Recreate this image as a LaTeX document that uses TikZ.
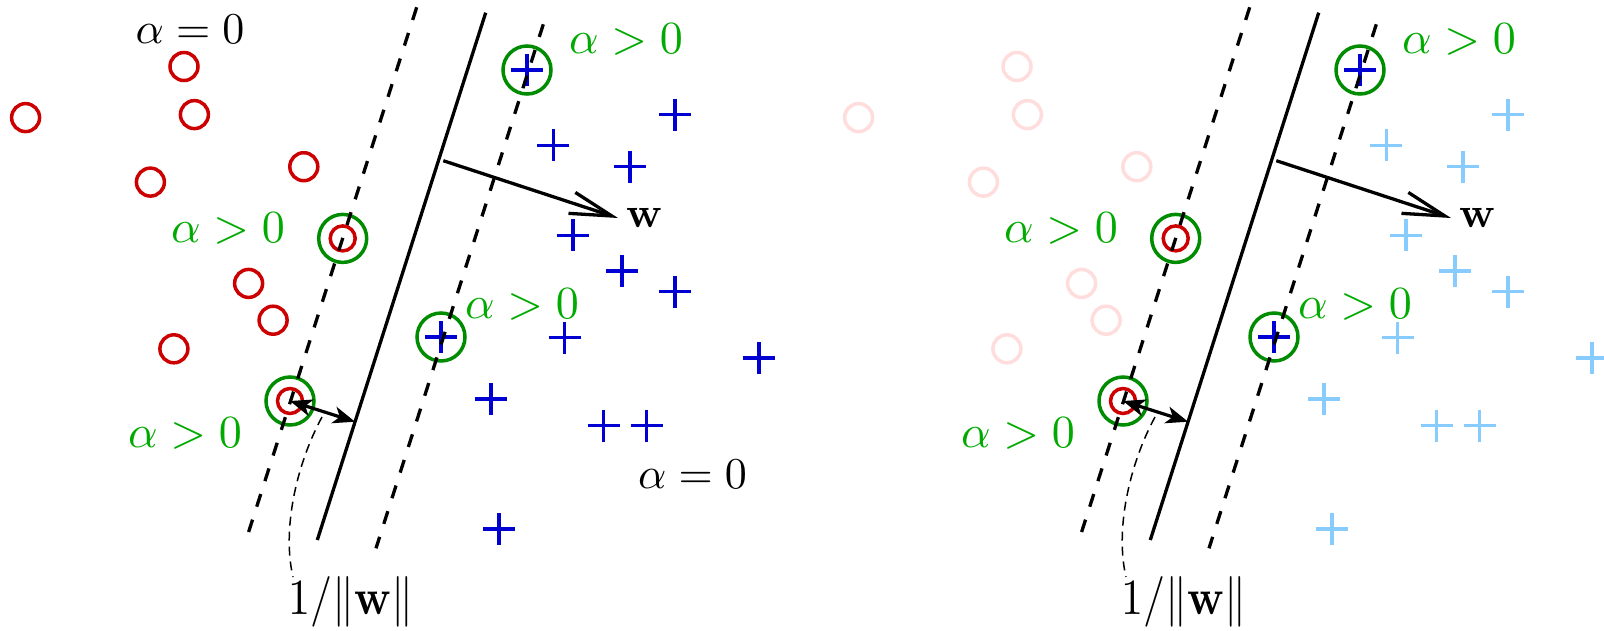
\documentclass[tikz,border=0pt]{standalone}
\usetikzlibrary{arrows.meta,calc}
\definecolor{redC}{RGB}{204,0,0}
\definecolor{pinkC}{RGB}{255,221,221}
\definecolor{blueC}{RGB}{0,0,210}
\definecolor{lblueC}{RGB}{136,204,255}
\definecolor{greenC}{RGB}{0,140,0}
\definecolor{gtextC}{RGB}{0,170,0}
\newcommand\svmtxt[2][4.6]{\scalebox{#1}{$#2$}}
\tikzset{
  ring/.style={circle, draw, line width=3.5pt, minimum size=28pt, inner sep=0pt},
  svring/.style={circle, draw=greenC, line width=3.5pt, minimum size=48pt, inner sep=0pt},
  svin/.style={circle, draw=redC, line width=3.5pt, minimum size=25pt, inner sep=0pt},
  pl/.pic={\draw[line width=3.5pt] (-16,0) -- (16,0) (0,-16) -- (0,16);},
  bnd/.style={line width=3.3pt},
  marg/.style={line width=3.3pt, dash pattern=on 13.3pt off 13.6pt},
  lab/.style={inner sep=0pt},
  galab/.style={lab, text=gtextC, anchor=base},
  kalab/.style={lab, text=black, anchor=base},
  wlab/.style={lab, anchor=west, inner xsep=8pt},
  normlab/.style={lab, anchor=base},
  guide/.style={line width=1.5pt, dash pattern=on 9pt off 6pt},
  dbl/.style={line width=3.2pt, {Stealth[length=22pt,width=17pt,inset=6pt]}-{Stealth[length=22pt,width=17pt,inset=6pt]}},
  warr/.style={line width=3.3pt, -{Straight Barb[length=42pt,width=22pt]}}
}
\newcommand\svmpanel[3]{%
  \foreach \px/\py [count=\i] in {184/66.5, 25.6/117.6, 194.4/114.6, 150.4/182.1, 303.8/166.7, 248.6/283.4, 273.1/320.2, 173.9/348.8}
    {\node[ring, draw=#2] (r\i#1) at (\px,\py) {};}
  \foreach \px/\py [count=\i] in {675.2/114.6, 553.4/145.3, 630.2/166.7, 572.9/235.3, 622/271.1, 675.2/291.6, 564.7/337.6, 759.1/358.1, 491/399, 603.6/425.6, 646.5/425.6, 499.2/528.9}
    {\pic[color=#3] (p\i#1) at (\px,\py) {pl};}
  % support vectors
  \node[svin] (sa#1) at (342.7,238.4) {};
  \node[svring] (ga#1) at (sa#1) {};
  \node[svin] (sb#1) at (290,401) {};
  \node[svring] (gb#1) at (sb#1) {};
  \pic[color=blueC] (pc#1) at (527,70) {pl};
  \node[svring] (gc#1) at (527,70) {};
  \pic[color=blueC] (pd#1) at (441,337) {pl};
  \node[svring] (gd#1) at (441,337) {};
  % hyperplane and margins
  \coordinate (sT#1) at (485.7,12.7);
  \coordinate (sB#1) at (317.3,540);
  \coordinate (mlT#1) at (416.7,7.3);
  \coordinate (mlB#1) at (248.6,532);
  \coordinate (mrT#1) at (543.3,24.3);
  \coordinate (mrB#1) at (376,548.3);
  \draw[bnd] (sT#1) -- (sB#1);
  \draw[marg] (mlT#1) -- (mlB#1);
  \draw[marg] (mrT#1) -- (mrB#1);
  % normal vector
  \coordinate (wS#1) at (443.3,160.7);
  \node[wlab] (w#1) at (618,218) {\svmtxt[4.3]{\mathbf{w}}};
  \draw[warr] (wS#1) -- (w#1.west);
  % margin width
  \draw[dbl] (sb#1.center) -- ($(sT#1)!(sb#1.center)!(sB#1)$);
  \node[normlab] (n#1) at (351,614) {\scalebox{4.4}[5.06]{$1/\|\mathbf{w}\|$}};
  \coordinate (cS#1) at (322,417);
  \coordinate (cE#1) at (293,577);
  \draw[guide] (cS#1) .. controls (296,465) and (282,530) .. (cE#1);
  % labels
  \node[galab] (a1#1) at (626,53) {\svmtxt{\alpha>0}};
  \node[galab] (a2#1) at (228,242) {\svmtxt{\alpha>0}};
  \node[galab] (a3#1) at (522,318) {\svmtxt{\alpha>0}};
  \node[galab] (a4#1) at (185,447) {\svmtxt{\alpha>0}};
}
\begin{document}
\begin{tikzpicture}[x=1pt,y=-1pt]
  \clip (0,0) rectangle (1604,630);
  \fill[white] (0,0) rectangle (1604,630);
  \svmpanel{L}{redC}{blueC}
  \node[kalab] (z1) at (190,43) {\svmtxt[4.4]{\alpha=0}};
  \node[kalab] (z2) at (692.5,488) {\svmtxt[4.4]{\alpha=0}};
  \begin{scope}[xshift=833pt]
    \svmpanel{R}{pinkC}{lblueC}
  \end{scope}
\end{tikzpicture}
\end{document}
